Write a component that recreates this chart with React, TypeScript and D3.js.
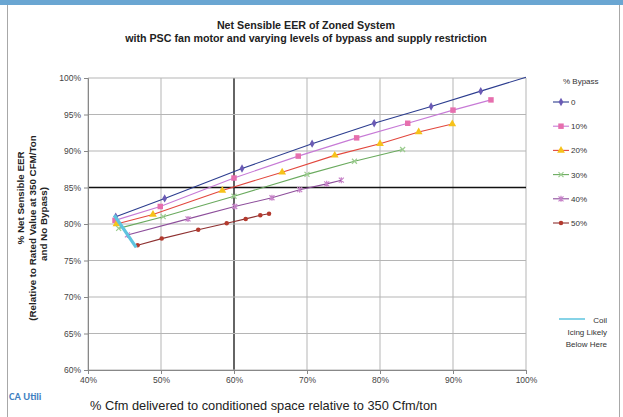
import React, { useRef, useEffect } from "react";
import * as d3 from "d3";

const width = 623;
const height = 417;
const margin = { left: 88, right: 97, top: 78, bottom: 47 }; // plot box 88..526, 78..370

const xTicks = [40, 50, 60, 70, 80, 90, 100];
const yTicks = [60, 65, 70, 75, 80, 85, 90, 95, 100];

// % cfm delivered, % net sensible EER
const bypass0X = [43.8, 50.5, 61.1, 70.7, 79.2, 87.0, 93.8, 100];
const bypass0Y = [81.0, 83.5, 87.6, 91.0, 93.8, 96.1, 98.2, 100.1];
const bypass10X = [43.7, 49.9, 60.0, 68.8, 76.8, 83.8, 90.0, 95.2];
const bypass10Y = [80.5, 82.4, 86.3, 89.3, 91.8, 93.8, 95.6, 97.0];
const bypass20X = [43.9, 48.9, 58.4, 66.6, 73.8, 80.0, 85.3, 89.9];
const bypass20Y = [80.0, 81.3, 84.6, 87.1, 89.4, 91.0, 92.6, 93.7];
const bypass30X = [44.2, 50.3, 60.0, 70.0, 76.5, 83.1];
const bypass30Y = [79.4, 81.0, 83.8, 86.8, 88.6, 90.2];
const bypass40X = [45.4, 53.7, 60.1, 65.2, 69.0, 72.7, 74.7];
const bypass40Y = [78.5, 80.7, 82.4, 83.6, 84.7, 85.5, 86.0];
const bypass50X = [46.8, 50.1, 55.1, 59.0, 61.6, 63.6, 64.8];
const bypass50Y = [77.1, 78.0, 79.2, 80.1, 80.7, 81.2, 81.4];
const coilX = [43.6, 46.6];
const coilY = [81.2, 76.8];

const seriesNames = ["0", "10%", "20%", "30%", "40%", "50%"];
const lineColors = ["#2c3d8f", "#c77ad6", "#e2473d", "#6aaa5e", "#8d4e9b", "#8e3030"];
const markerColors = ["#6b5bb5", "#e66fae", "#f6c21a", "#9ccd8f", "#c884c9", "#b33a2e"];
const markerShapes = ["diamond", "square", "triangle", "cross", "star", "circle"];

const seriesData = [
  [bypass0X, bypass0Y],
  [bypass10X, bypass10Y],
  [bypass20X, bypass20Y],
  [bypass30X, bypass30Y],
  [bypass40X, bypass40Y],
  [bypass50X, bypass50Y],
];

const yTitle = [
  "% Net Sensible EER",
  "(Relative to Rated Value at 350 CFM/Ton",
  "and No Bypass)",
];

const drawMarker = (
  g: d3.Selection<SVGGElement, unknown, null, undefined>,
  shape: string,
  color: string,
  x: number,
  y: number
) => {
  if (shape === "cross" || shape === "star") {
    const s = 2.5;
    const p = `M${x - s},${y - s}L${x + s},${y + s}M${x - s},${y + s}L${x + s},${y - s}` +
      (shape === "star" ? `M${x},${y - s - 0.5}L${x},${y + s + 0.5}` : "");
    g.append("path").attr("d", p).attr("stroke", color).attr("stroke-width", 1.2).attr("fill", "none");
    return;
  }
  const sym =
    shape === "diamond" ? d3.symbolDiamond :
    shape === "square" ? d3.symbolSquare :
    shape === "triangle" ? d3.symbolTriangle : d3.symbolCircle;
  const size = shape === "square" ? 30 : shape === "triangle" ? 26 : shape === "circle" ? 16 : 20;
  g.append("path")
    .attr("d", d3.symbol(sym, size)())
    .attr("transform", `translate(${x},${y})`)
    .attr("fill", color);
};

const App = () => {
  const ref = useRef<SVGSVGElement>(null);

  useEffect(() => {
    if (!ref.current) return;
    const svg = d3.select(ref.current);
    svg.selectAll("*").remove();

    const x = d3.scaleLinear().domain([40, 100]).range([margin.left, width - margin.right]);
    const y = d3.scaleLinear().domain([60, 100]).range([height - margin.bottom, margin.top]);

    // frame + top band
    svg.append("rect").attr("x", 0).attr("y", 0).attr("width", width).attr("height", 5).attr("fill", "#6aa6d2");
    svg.append("path").attr("d", `M7.5,5V${height}M619.5,5V${height}`).attr("stroke", "#a8a8a8").attr("fill", "none");

    const font = "Liberation Sans, Arial, sans-serif";

    // title
    svg.append("text").attr("x", 306).attr("y", 29).attr("text-anchor", "middle")
      .attr("font-family", font).attr("font-size", 10.7).attr("font-weight", "bold").attr("fill", "#222")
      .text("Net Sensible EER of Zoned System");
    svg.append("text").attr("x", 306).attr("y", 42).attr("text-anchor", "middle")
      .attr("font-family", font).attr("font-size", 10.7).attr("font-weight", "bold").attr("fill", "#222")
      .text("with PSC fan motor and varying levels of bypass and supply restriction");

    // grid
    const grid = svg.append("g");
    xTicks.forEach((t) => {
      grid.append("line").attr("x1", x(t)).attr("x2", x(t)).attr("y1", y(100)).attr("y2", y(60))
        .attr("stroke", t === 60 ? "#111" : "#b5b5b5").attr("stroke-width", t === 60 ? 1.3 : 1);
    });
    yTicks.forEach((t) => {
      grid.append("line").attr("x1", x(40)).attr("x2", x(100)).attr("y1", y(t)).attr("y2", y(t))
        .attr("stroke", t === 85 ? "#111" : "#b5b5b5").attr("stroke-width", t === 85 ? 1.3 : 1);
    });

    // axes
    const xAxis = d3.axisBottom(x).tickValues(xTicks).tickSize(4).tickFormat((d) => `${d}%`);
    const yAxis = d3.axisLeft(y).tickValues(yTicks).tickSize(4).tickFormat((d) => `${d}%`);
    const gx = svg.append("g").attr("transform", `translate(0,${y(60)})`).call(xAxis as never);
    const gy = svg.append("g").attr("transform", `translate(${x(40)},0)`).call(yAxis as never);
    [gx, gy].forEach((g) => {
      g.select(".domain").attr("stroke", "#888");
      g.selectAll(".tick line").attr("stroke", "#888");
      g.selectAll(".tick text").attr("font-family", font).attr("font-size", 8.5).attr("fill", "#444");
    });

    // series
    const line = d3.line<[number, number]>().x((d) => x(d[0])).y((d) => y(d[1]));
    const marks = svg.append("g");
    seriesData.forEach(([xs, ys], i) => {
      const pts = xs.map((v, j) => [v, ys[j]] as [number, number]);
      marks.append("path").attr("d", line(pts)).attr("fill", "none")
        .attr("stroke", lineColors[i]).attr("stroke-width", 1.1);
      // markers beyond the plot edge are not shown
      pts.filter((p) => p[0] < 100)
        .forEach((p) => drawMarker(marks, markerShapes[i], markerColors[i], x(p[0]), y(p[1])));
    });
    const coilPts = coilX.map((v, j) => [v, coilY[j]] as [number, number]);
    marks.append("path").attr("d", line(coilPts)).attr("fill", "none")
      .attr("stroke", "#5ec4df").attr("stroke-width", 3.2);

    // legend
    const lg = svg.append("g").attr("font-family", font).attr("font-size", 8).attr("fill", "#333");
    lg.append("text").attr("x", 563).attr("y", 84).text("% Bypass");
    seriesNames.forEach((n, i) => {
      const ly = 102 + i * 24.2;
      lg.append("line").attr("x1", 553).attr("x2", 569).attr("y1", ly).attr("y2", ly)
        .attr("stroke", lineColors[i]).attr("stroke-width", 1.1);
      drawMarker(lg, markerShapes[i], markerColors[i], 561, ly);
      lg.append("text").attr("x", 571).attr("y", ly + 3).text(n);
    });
    lg.append("line").attr("x1", 559).attr("x2", 585).attr("y1", 319).attr("y2", 319)
      .attr("stroke", "#5ec4df").attr("stroke-width", 1.5);
    lg.append("text").attr("x", 607).attr("y", 323).attr("text-anchor", "end").text("Coil");
    lg.append("text").attr("x", 607).attr("y", 335).attr("text-anchor", "end").text("Icing Likely");
    lg.append("text").attr("x", 607).attr("y", 347).attr("text-anchor", "end").text("Below Here");

    // y axis title
    const yPos = [
      [24, 198],
      [35.5, 228],
      [47, 224],
    ];
    yTitle.forEach((t, i) => {
      svg.append("text").attr("transform", `translate(${yPos[i][0]},${yPos[i][1]}) rotate(-90)`)
        .attr("font-family", font).attr("font-size", 9.8).attr("font-weight", "bold").attr("fill", "#222")
        .attr("text-anchor", "middle").text(t);
    });

    // x axis title
    svg.append("text").attr("x", 90).attr("y", 410).attr("font-family", font)
      .attr("font-size", 12.8).attr("fill", "#222")
      .text("% Cfm delivered to conditioned space relative to 350 Cfm/ton");

    svg.append("text").attr("x", 9).attr("y", 400).attr("font-family", "Carlito, Calibri, Liberation Sans, sans-serif")
      .attr("font-size", 10.5).attr("font-weight", "bold").attr("fill", "#3f7fc1")
      .text("CA Utili");
  }, []);

  return (
    <svg
      ref={ref}
      width={width}
      height={height}
      style={{ position: "absolute", left: 0, top: 0, background: "#fff" }}
    />
  );
};

export default App;
